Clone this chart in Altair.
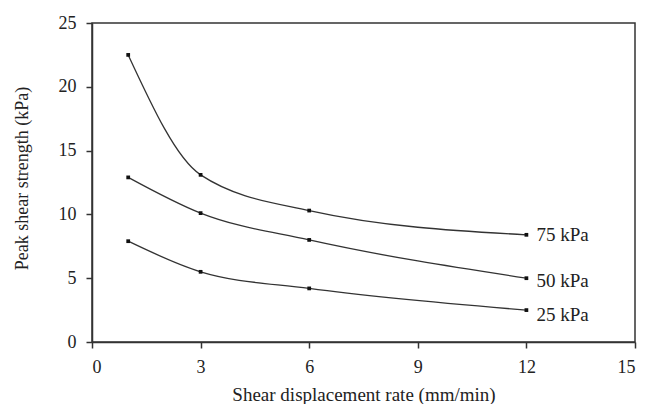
import altair as alt
import pandas as pd

rates = [1, 3, 6, 12]
s25 = [7.9, 5.5, 4.2, 2.5]
s50 = [12.9, 10.1, 8.0, 5.0]
s75 = [22.5, 13.1, 10.3, 8.4]
series_names = ["25 kPa", "50 kPa", "75 kPa"]
label_dy = [5, 3, 0]

rows = []
for name, vals in zip(series_names, [s25, s50, s75]):
    for r, v in zip(rates, vals):
        rows.append({"rate": r, "strength": v, "series": name})
df = pd.DataFrame(rows)

FONT = "Liberation Serif"
x = alt.X("rate:Q", scale=alt.Scale(domain=[0, 15], nice=False),
          axis=alt.Axis(values=[0, 3, 6, 9, 12, 15], title="Shear displacement rate (mm/min)",
                        grid=False, tickSize=6, labelPadding=10, titlePadding=9))
y = alt.Y("strength:Q", scale=alt.Scale(domain=[0, 25], nice=False),
          axis=alt.Axis(values=[0, 5, 10, 15, 20, 25], title="Peak shear strength (kPa)",
                        grid=False, tickSize=6, labelPadding=10, titlePadding=27, titleY=155,
                        titleFontSize=18))

base = alt.Chart(df)
lines = base.mark_line(interpolate="monotone", color="#333333", strokeWidth=1.3).encode(
    x=x, y=y, detail="series:N")
points = base.mark_square(size=14, color="#111111", opacity=1).encode(x=x, y=y, detail="series:N")

layers = [lines, points]
for name, dy in zip(series_names, label_dy):
    lab = base.transform_filter(
        (alt.datum.series == name) & (alt.datum.rate == 12)
    ).mark_text(align="left", baseline="middle", dx=10, dy=dy, font=FONT, fontSize=19,
                color="#222222").encode(x=x, y=y, text="series:N")
    layers.append(lab)

chart = alt.layer(*layers).properties(
    width=543, height=319,
    autosize=alt.AutoSizeParams(type="none"),
    padding={"left": 92, "top": 23, "right": 11, "bottom": 62},
).configure(background="white").configure_view(stroke="#333333", strokeWidth=1.5).configure_axis(
    domainColor="#333333", domainWidth=1.5, tickColor="#333333", tickWidth=1.5,
    labelFont=FONT, titleFont=FONT, labelFontSize=18, titleFontSize=19,
    labelColor="#222222", titleColor="#222222", titleFontWeight="normal",
)

chart.save("out.html", embed_options={"renderer": "svg", "actions": False})
